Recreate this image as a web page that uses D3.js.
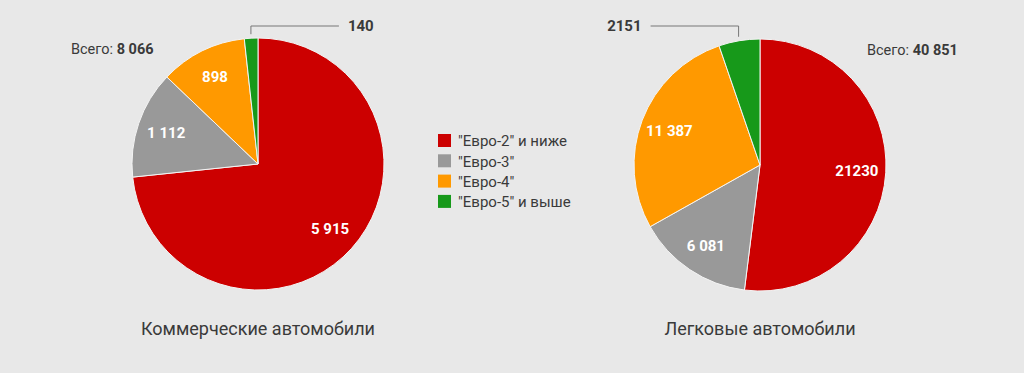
<!DOCTYPE html>
<html>
<head>
<meta charset="utf-8">
<script src="https://d3js.org/d3.v7.min.js"></script>
<style>
body {margin: 0; background: #e8e8e8;}
svg {display: block; font-family: Roboto, "Noto Sans", sans-serif;}
.slice-label {fill: white; font-weight: bold; font-size: 15px; text-anchor: middle;}
.out-label {fill: #3a3a3a; font-weight: bold; font-size: 15px;}
.total {fill: #3a3a3a; font-size: 14.5px;}
.title {fill: #3a3a3a; font-size: 18px; text-anchor: middle;}
.legend text {fill: #3a3a3a; font-size: 15px;}
</style>
</head>
<body>
<svg width="1024" height="373"></svg>
<script>
// data
var categories = ['"Евро-2" и ниже', '"Евро-3"', '"Евро-4"', '"Евро-5" и выше'];
var colors = ["#cc0000", "#999999", "#ff9900", "#17991a"];
var commercial = [5915, 1112, 898, 140];
var commercialLabels = ["5 915", "1 112", "898", "140"];
var cars = [21230, 6081, 11387, 2151];
var carsLabels = ["21230", "6 081", "11 387", "2151"];

var svg = d3.select("svg");
var R = 126;

var color = d3.scaleOrdinal().domain(d3.range(4)).range(colors);
var pie = d3.pie().sort(null).value(function(d) { return d.v; });
var arc = d3.arc().innerRadius(0).outerRadius(R);
var labelArc = d3.arc().innerRadius(R * 0.77).outerRadius(R * 0.77);

function drawPie(cx, cy, values, labels, title, total, totalPos, outSide) {
    var g = svg.append("g").attr("transform", "translate(" + cx + "," + cy + ")");
    var data = pie(values.map(function(v, i) { return {v: v, i: i, l: labels[i]}; }));

    g.selectAll("path").data(data).enter().append("path")
        .attr("d", arc)
        .attr("fill", function(d) { return color(d.data.i); })
        .attr("stroke", "#f4f4f4")
        .attr("stroke-width", 1);

    g.selectAll(".slice-label").data(data.filter(function(d) { return d.data.i < 3; }))
        .enter().append("text")
        .attr("class", "slice-label")
        .attr("dy", "0.35em")
        .attr("transform", function(d) { return "translate(" + labelArc.centroid(d) + ")"; })
        .text(function(d) { return d.data.l; });

    // leader for the small green slice
    var last = data[3];
    var mid = (last.startAngle + last.endAngle) / 2;
    var x0 = Math.sin(mid) * (R + 4), y0 = -Math.cos(mid) * (R + 4);
    var yLine = -cy + 26;
    var xEnd = outSide > 0 ? x0 + 88 : x0 - 88;
    g.append("path")
        .attr("d", "M" + x0 + "," + y0 + "V" + yLine + "H" + xEnd)
        .attr("fill", "none").attr("stroke", "#777").attr("stroke-width", 1);
    g.append("text").attr("class", "out-label")
        .attr("x", outSide > 0 ? xEnd + 9 : xEnd - 9)
        .attr("y", yLine).attr("dy", "0.35em")
        .attr("text-anchor", outSide > 0 ? "start" : "end")
        .text(last.data.l);

    var t = svg.append("text").attr("class", "total")
        .attr("x", totalPos[0]).attr("y", totalPos[1]);
    t.append("tspan").text("Всего: ");
    t.append("tspan").attr("font-weight", "bold").text(total);

    svg.append("text").attr("class", "title")
        .attr("x", cx).attr("y", 335).text(title);
}

drawPie(258, 164, commercial, commercialLabels, "Коммерческие автомобили", "8 066", [71, 54], 1);
drawPie(760, 165, cars, carsLabels, "Легковые автомобили", "40 851", [867, 55], -1);

var legend = svg.append("g").attr("class", "legend")
    .attr("transform", "translate(438,134)");
var row = legend.selectAll("g").data(categories).enter().append("g")
    .attr("transform", function(d, i) { return "translate(0," + i * 20.3 + ")"; });
row.append("rect").attr("width", 13).attr("height", 13)
    .attr("fill", function(d, i) { return color(i); });
row.append("text").attr("x", 20).attr("y", 7).attr("dy", "0.35em")
    .text(function(d) { return d; });
</script>
</body>
</html>
